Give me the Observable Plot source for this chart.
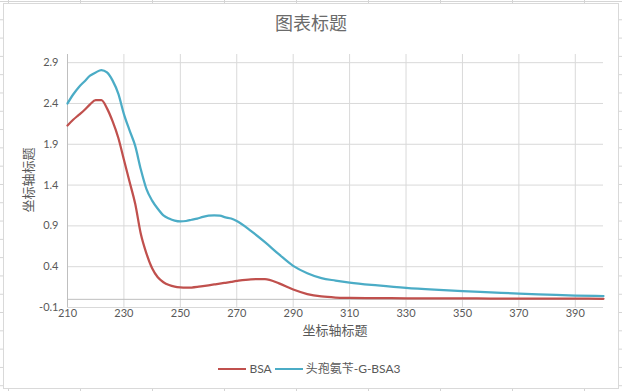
<!DOCTYPE html>
<html>
<head>
<meta charset="utf-8">
<script src="https://cdn.jsdelivr.net/npm/d3@7"></script>
<script src="https://cdn.jsdelivr.net/npm/@observablehq/plot@0.6"></script>
<style>
  html, body { margin: 0; padding: 0; }
  body {
    width: 622px; height: 391px; overflow: hidden; position: relative;
    background-color: #fff;
    background-image:
      linear-gradient(to right, #d4d4d4 1px, transparent 1px),
      linear-gradient(to bottom, #d4d4d4 1px, transparent 1px);
    background-size: 72px 100%, 100% 18.3px;
    background-position: 8px 0, 0 1px;
  }
  #chart {
    position: absolute; left: 3px; top: 3px; width: 614px; height: 384px;
    background: #fff; border: 1px solid #d9d9d9;
  }
  #plot { position: absolute; left: 0; top: 0; }
  .txt { position: absolute; color: #595959; font-family: "Noto Sans CJK SC", sans-serif; white-space: nowrap; }
  #title { left: 0; width: 622px; top: 10px; text-align: center; font-size: 18px; line-height: 24px; color: #6b6b6b; }
  #xtitle { left: 0; width: 670px; top: 321px; text-align: center; font-size: 13px; line-height: 18px; }
  #ytitle { left: 27.5px; top: 180px; font-size: 13px; line-height: 18px; transform: translate(-50%, -50%) rotate(-90deg); }
  #legend { left: 0; width: 622px; top: 361px; text-align: center; font-size: 12px; line-height: 16px; font-family: Lato, "Noto Sans CJK SC", sans-serif; }
  .sw { display: inline-block; width: 28px; height: 2.5px; vertical-align: middle; margin: 0 3px 0 0; position: relative; top: -1px; }
  .item { margin-right: 3px; }
</style>
</head>
<body>
<div id="chart"></div>
<div id="plot"></div>
<div id="title" class="txt">图表标题</div>
<div id="xtitle" class="txt">坐标轴标题</div>
<div id="ytitle" class="txt">坐标轴标题</div>
<div id="legend" class="txt"></div>
<script>
const seriesNames = ["BSA", "头孢氨苄-G-BSA3"];
const seriesColors = ["#C0504D", "#4BACC6"];

const wavelength = [210,212,214,216,218,220,222,224,226,228,230,232,234,236,238,240,242,244,246,248,250,252,254,256,258,260,262,264,266,268,270,275,280,285,290,295,300,305,310,320,330,340,350,360,370,380,390,400];

const bsa = [2.13,2.20,2.26,2.32,2.39,2.44,2.44,2.34,2.18,1.98,1.71,1.44,1.17,0.80,0.56,0.38,0.27,0.21,0.175,0.155,0.146,0.143,0.145,0.152,0.162,0.172,0.182,0.192,0.203,0.214,0.225,0.245,0.248,0.195,0.12,0.065,0.035,0.022,0.018,0.015,0.013,0.012,0.011,0.010,0.009,0.008,0.008,0.007];

const cef = [2.40,2.51,2.60,2.67,2.74,2.78,2.81,2.78,2.68,2.52,2.27,2.07,1.88,1.59,1.35,1.21,1.11,1.03,0.99,0.965,0.955,0.96,0.975,0.99,1.01,1.025,1.03,1.025,1.005,0.99,0.96,0.84,0.70,0.55,0.41,0.32,0.26,0.23,0.205,0.17,0.14,0.118,0.10,0.085,0.07,0.058,0.047,0.04];

const xTicks = [210,230,250,270,290,310,330,350,370,390];
const yTicks = [-0.1,0.4,0.9,1.4,1.9,2.4,2.9];

const rowsBSA = wavelength.map((w, i) => ({w, v: bsa[i]}));
const rowsCef = wavelength.map((w, i) => ({w, v: cef[i]}));

const chart = Plot.plot({
  width: 622, height: 391,
  marginLeft: 67, marginRight: 19, marginTop: 54, marginBottom: 84,
  x: {domain: [210, 400]},
  y: {domain: [-0.1, 3.0]},
  style: {fontFamily: "Lato, sans-serif", fontSize: "11px", color: "#595959", background: "transparent", overflow: "visible"},
  marks: [
    Plot.gridX(xTicks, {stroke: "#d9d9d9", strokeOpacity: 1}),
    Plot.gridY(yTicks, {stroke: "#d9d9d9", strokeOpacity: 1}),
    Plot.ruleY([0], {stroke: "#bfbfbf"}),
    Plot.ruleX([210], {stroke: "#bfbfbf"}),
    Plot.axisX(xTicks, {tickSize: 0, tickPadding: 2, label: null, fill: "#595959"}),
    Plot.axisY(yTicks, {tickSize: 0, tickPadding: 9, label: null, fill: "#595959", tickFormat: d => d.toFixed(1)}),
    Plot.line(rowsBSA, {x: "w", y: "v", stroke: seriesColors[0], strokeWidth: 2.25, strokeLinejoin: "round", curve: "monotone-x"}),
    Plot.line(rowsCef, {x: "w", y: "v", stroke: seriesColors[1], strokeWidth: 2.25, strokeLinejoin: "round", curve: "monotone-x"})
  ]
});
document.getElementById("plot").appendChild(chart);

const legend = document.getElementById("legend");
seriesNames.forEach((name, i) => {
  const sw = document.createElement("span");
  sw.className = "sw";
  sw.style.background = seriesColors[i];
  const t = document.createElement("span");
  t.className = "item";
  t.textContent = name;
  legend.appendChild(sw);
  legend.appendChild(t);
});
</script>
</body>
</html>
